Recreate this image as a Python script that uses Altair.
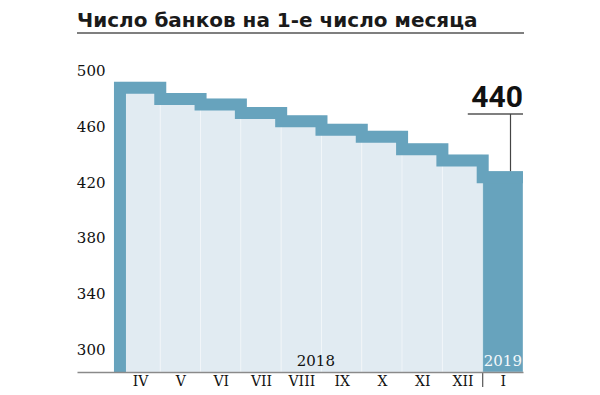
import json
import altair as alt
import pandas as pd

# ---- data ----
months = ["IV", "V", "VI", "VII", "VIII", "IX", "X", "XI", "XII", "I"]
banks = [504, 496, 492, 486, 480, 474, 469, 460, 452, 440]
years = [2018] * 9 + [2019]
y_ticks = [300, 340, 380, 420, 460, 500]
year_labels = ["2018", "2019"]
title_text = "Число банков на 1-е число месяца"

# ---- style / layout constants ----
DARK = "#67a3bd"
LIGHT = "#e1ebf2"
Y_MIN, Y_MAX = 296, 534
X_MIN, X_MAX = -1.066, 10
W, H = 446, 332
SERIF = "DejaVu Serif"
SANS = "Roboto"
TITLE_FONT = "DejaVu Sans"

n = len(months)
table = pd.DataFrame({
    "i": list(range(n)),
    "i2": [k + 1 for k in range(n)],
    "month": months,
    "banks": banks,
    "year": years,
})

# step line through the column boundaries, starting from the baseline
step = pd.DataFrame({
    "x": [0] + list(range(n)) + [n],
    "y": [Y_MIN] + banks + [banks[-1]],
    "order": list(range(n + 2)),
})

xs = alt.Scale(domain=[X_MIN, X_MAX], nice=False, zero=False)
ys = alt.Scale(domain=[Y_MIN, Y_MAX], nice=False, zero=False)

label_expr = json.dumps(months) + "[round(datum.value - 0.5)]"

x_axis = alt.Axis(
    values=[k + 0.5 for k in range(n)], labelExpr=label_expr, title=None,
    ticks=False, tickSize=0, grid=False, domainColor="#8a8a8a", domainWidth=1.6,
    labelFont=SERIF, labelFontSize=14, labelColor="#111111", labelPadding=2,
    labelAngle=0, labelBaseline="top", zindex=2,
)
y_axis = alt.Axis(
    values=y_ticks, title=None, ticks=False, tickSize=0, grid=False, domain=False,
    labelFont=SERIF, labelFontSize=15, labelColor="#111111",
    labelPadding=-28, labelOffset=-17, labelAlign="right", labelBaseline="middle",
    zindex=2,
)


def X(field):
    return alt.X(field, scale=xs, axis=x_axis)


def Y(field):
    return alt.Y(field, scale=ys, axis=y_axis)


bars = alt.Chart(table).transform_calculate(base=str(Y_MIN)).mark_rect(
    stroke="white", strokeWidth=1, strokeOpacity=0.35
).encode(
    x=X("i:Q"),
    x2="i2:Q",
    y=Y("banks:Q"),
    y2="base:Q",
    fill=alt.condition(alt.datum.year == 2019, alt.value(DARK), alt.value(LIGHT)),
)

line = alt.Chart(step).mark_line(
    interpolate="step-after", stroke=DARK, strokeWidth=12, yOffset=6,
    clip=True, strokeCap="butt", strokeJoin="miter",
).encode(
    x=X("x:Q"),
    y=Y("y:Q"),
    order="order:Q",
)

yl = pd.DataFrame({"x": [4.86, 9.5], "y": [300, 300], "label": year_labels})
year_text = alt.Chart(yl).mark_text(
    font=SERIF, fontSize=15, baseline="alphabetic", align="center"
).encode(
    x=X("x:Q"),
    y=Y("y:Q"),
    text="label:N",
    fill=alt.condition(alt.datum.label == "2019", alt.value("#f4f8fb"), alt.value("#111111")),
)

last = pd.DataFrame({"x": [n], "xl": [8.63], "xv": [9.69], "v": [banks[-1]],
                     "t": [str(banks[-1])]})
ann_text = alt.Chart(last).mark_text(
    font=SANS, fontSize=30, fontWeight="bold", align="right", baseline="alphabetic",
    color="#111111",
).encode(
    x=X("x:Q"),
    y=alt.value(67),
    text="t:N",
)
ann_h = alt.Chart(last).mark_rule(color="#555555", strokeWidth=1.3).encode(
    x=X("xl:Q"),
    x2="x:Q",
    y=alt.value(74),
)
ann_v = alt.Chart(last).mark_rule(color="#444444", strokeWidth=1.2).encode(
    x=X("xv:Q"),
    y=Y("v:Q"),
    y2=alt.value(74),
)

sep = alt.Chart(pd.DataFrame({"x": [n - 1]})).mark_rule(
    color="#555555", strokeWidth=1.2
).encode(
    x=X("x:Q"),
    y=alt.value(H),
    y2=alt.value(H + 16),
)

title = alt.Chart(pd.DataFrame({"t": [title_text]})).mark_text(
    font=TITLE_FONT, fontSize=20, fontWeight="bold", align="left", baseline="alphabetic",
    color="#1a1a1a",
).encode(x=alt.value(0), y=alt.value(-13), text="t:N")

title_rule = alt.Chart(pd.DataFrame({"a": [0]})).mark_rule(
    color="#555555", strokeWidth=1.3
).encode(x=alt.value(0), x2=alt.value(W + 1), y=alt.value(-7))

chart = alt.layer(
    bars, line, year_text, ann_h, ann_v, ann_text, sep, title, title_rule
).properties(
    width=W, height=H,
    padding={"left": 69, "top": 32, "right": 68, "bottom": 15},
    autosize=alt.AutoSizeParams(type="none"),
    background="white",
).configure_view(stroke=None)

chart.save("out.html", embed_options={"renderer": "svg", "actions": False})
